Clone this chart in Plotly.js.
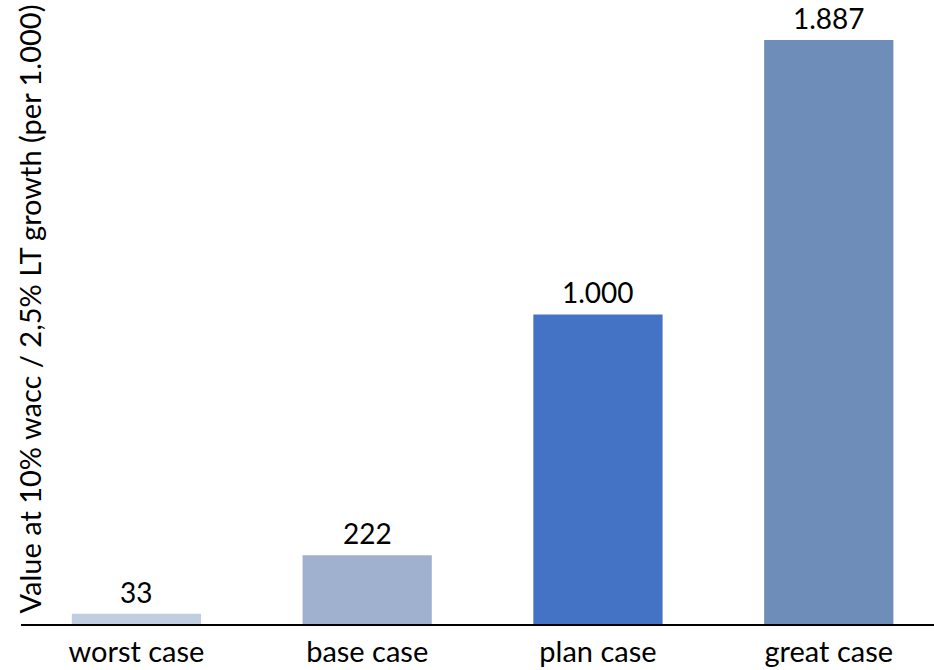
<!DOCTYPE html>
<html>
<head>
<meta charset="utf-8">
<script src="https://cdn.plot.ly/plotly-3.0.1.min.js"></script>
<style>
  html, body { margin: 0; padding: 0; background: #ffffff; }
  #chart { width: 934px; height: 670px; }
</style>
</head>
<body>
<div id="chart"></div>
<script>
// Scenario valuation (per 1.000)
const categories = ['worst case', 'base case', 'plan case', 'great case'];
const values = [33, 222, 1000, 1887];
const barColors = ['#C1CDE1', '#9FB1CF', '#4472C4', '#6F8DB9'];
const yTitle = 'Value at 10% wacc / 2,5% LT growth (per 1.000)';

const fontFamily = 'Lato, "Open Sans", sans-serif';

const trace = {
  type: 'bar',
  x: categories,
  y: values,
  marker: { color: barColors, line: { width: 0 } },
  hoverinfo: 'skip'
};

// value labels above each bar, "." as thousands separator
const labels = categories.map((c, i) => ({
  x: c,
  y: values[i],
  xref: 'x',
  yref: 'y',
  text: values[i].toLocaleString('de-DE'),
  showarrow: false,
  yanchor: 'bottom',
  yshift: 3,
  font: { family: fontFamily, size: 28, color: '#000000' }
}));

const layout = {
  width: 934,
  height: 670,
  margin: { l: 21, r: 0, t: 0, b: 46 },
  paper_bgcolor: '#ffffff',
  plot_bgcolor: '#ffffff',
  showlegend: false,
  bargap: 0.44,
  font: { family: fontFamily, size: 28, color: '#000000' },
  xaxis: {
    type: 'category',
    range: [-0.5, 3.456],
    showgrid: false,
    zeroline: false,
    showline: true,
    linecolor: '#000000',
    linewidth: 1.5,
    ticks: '',
    ticklabelstandoff: 2,
    tickfont: { family: fontFamily, size: 29, color: '#000000' },
    fixedrange: true
  },
  yaxis: {
    range: [0, 2016],
    showgrid: false,
    zeroline: false,
    showline: false,
    showticklabels: false,
    ticks: '',
    fixedrange: true
  },
  annotations: labels.concat([{
    text: yTitle,
    xref: 'paper',
    yref: 'paper',
    x: 9 / 913,
    y: 0.504,
    xanchor: 'center',
    yanchor: 'middle',
    textangle: -90,
    showarrow: false,
    font: { family: fontFamily, size: 29, color: '#000000' }
  }])
};

Plotly.newPlot('chart', [trace], layout, { staticPlot: true, displayModeBar: false });
</script>
</body>
</html>
